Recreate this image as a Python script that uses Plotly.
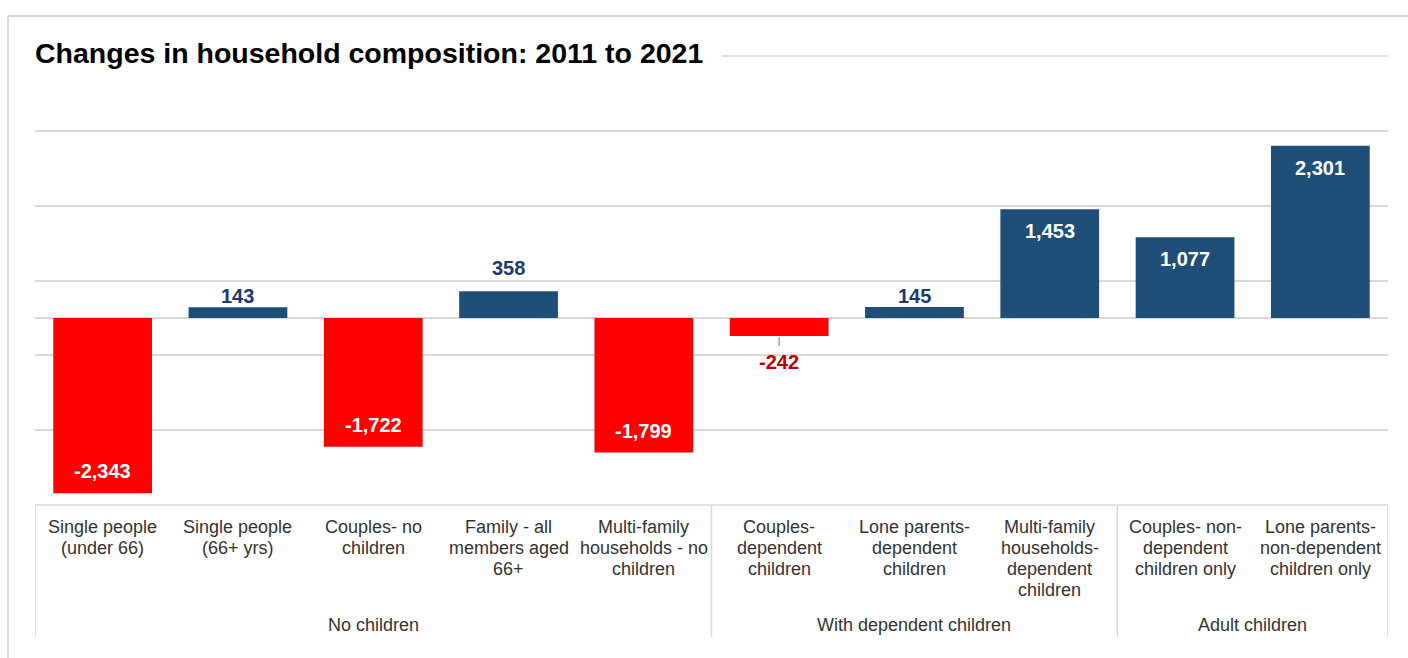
import plotly.graph_objects as go

# ---- data -------------------------------------------------------------
categories = [
    "Single people\n(under 66)",
    "Single people\n(66+ yrs)",
    "Couples- no\nchildren",
    "Family - all\nmembers aged\n66+",
    "Multi-family\nhouseholds - no\nchildren",
    "Couples-\ndependent\nchildren",
    "Lone parents-\ndependent\nchildren",
    "Multi-family\nhouseholds-\ndependent\nchildren",
    "Couples- non-\ndependent\nchildren only",
    "Lone parents-\nnon-dependent\nchildren only",
]
groups = ["No children", "With dependent children", "Adult children"]
group_sizes = [5, 3, 2]
change = [-2343, 143, -1722, 358, -1799, -242, 145, 1453, 1077, 2301]

title_text = "Changes in household composition: 2011 to 2021"

# ---- styling ----------------------------------------------------------
W, H = 1408, 658
L, R = 35, 1388          # plot area left / right in px
T, B = 56, 505           # plot area top / bottom in px
Y_MIN, Y_MAX = -2500, 3500

BLUE = "#1F4E79"
RED = "#FF0000"
NAVY_TXT = "#1B3A6E"
RED_TXT = "#C00000"
GRID = "#D9D9D9"
AXIS_TXT = "#333333"
FONT = "Liberation Sans, Arial, sans-serif"

INSIDE_LIMIT = 1000      # bars bigger than this carry their label inside
label_lift = {3: 12}     # extra lift (px) for a label sitting higher


def px_y(ypix):
    """pixel row -> paper y"""
    return (B - ypix) / (B - T)


def px_x(xpix):
    """pixel column -> paper x"""
    return (xpix - L) / (R - L)


n = len(categories)
xs = list(range(n))
colors = [RED if v < 0 else BLUE for v in change]

fig = go.Figure()
fig.add_trace(go.Bar(
    x=xs, y=change, width=0.73,
    marker=dict(color=colors, line=dict(width=0)),
    hoverinfo="skip", showlegend=False,
))

annotations = []
shapes = []

# value labels
for i, v in enumerate(change):
    txt = f"{v:,}"
    if abs(v) > INSIDE_LIMIT:
        col = "white"
        shift = -22 if v > 0 else 22
    else:
        if v > 0:
            col = NAVY_TXT
            shift = 11 + label_lift.get(i, 0)
        else:
            col = RED_TXT
            shift = -26
            # leader line between bar end and label
            shapes.append(dict(
                type="line", xref="x", yref="y", ysizemode="pixel",
                yanchor=v, x0=i, x1=i, y0=-1, y1=-10,
                line=dict(color="#A6A6A6", width=1.5), layer="above",
            ))
    annotations.append(dict(
        x=i, y=v, xref="x", yref="y", text=f"<b>{txt}</b>",
        showarrow=False, yshift=shift, yanchor="middle", xanchor="center",
        font=dict(family=FONT, size=20, color=col),
    ))

# category labels, one annotation per line
line_y0, line_step = 527, 21
for i, lab in enumerate(categories):
    for k, part in enumerate(lab.split("\n")):
        annotations.append(dict(
            x=i, y=px_y(line_y0 + k * line_step), xref="x", yref="paper",
            text=part, showarrow=False, xanchor="center", yanchor="middle",
            font=dict(family=FONT, size=18, color=AXIS_TXT),
        ))

# group labels and separators
start = 0
bounds = [0]
for g, sz in zip(groups, group_sizes):
    mid = start + (sz - 1) / 2
    annotations.append(dict(
        x=mid, y=px_y(625), xref="x", yref="paper", text=g,
        showarrow=False, xanchor="center", yanchor="middle",
        font=dict(family=FONT, size=18, color=AXIS_TXT),
    ))
    start += sz
    bounds.append(start)

for b in bounds:
    shapes.append(dict(
        type="line", xref="x", yref="paper", x0=b - 0.5, x1=b - 0.5,
        y0=0, y1=px_y(637), line=dict(color=GRID, width=1.5), layer="above",
    ))
# top edge of the category box
shapes.append(dict(
    type="line", xref="paper", yref="paper", x0=0, x1=1, y0=0, y1=0,
    line=dict(color=GRID, width=1.5), layer="above",
))
# top gridline (axis maximum = paper top), stopping short of the title
shapes.append(dict(
    type="line", xref="paper", yref="paper", x0=px_x(722), x1=1,
    y0=1, y1=1, line=dict(color=GRID, width=1.5), layer="above",
))

# outer chart frame (left and top edges)
shapes.append(dict(
    type="line", xref="paper", yref="paper", x0=px_x(8), x1=px_x(8),
    y0=px_y(16), y1=px_y(H + 5), line=dict(color=GRID, width=2),
))
shapes.append(dict(
    type="line", xref="paper", yref="paper", x0=px_x(8), x1=px_x(W + 5),
    y0=px_y(16), y1=px_y(16), line=dict(color=GRID, width=2),
))

annotations.append(dict(
    x=px_x(33), y=px_y(53), xref="paper", yref="paper",
    text=f"<b>{title_text}</b>",
    showarrow=False, xanchor="left", yanchor="middle",
    font=dict(family=FONT, size=28.5, color="#000000"),
))

fig.update_layout(
    width=W, height=H,
    margin=dict(l=L, r=W - R, t=T, b=H - B, pad=0),
    paper_bgcolor="white", plot_bgcolor="white",
    xaxis=dict(range=[-0.5, n - 0.5], showticklabels=False, showgrid=False,
               zeroline=False, showline=False, ticks=""),
    yaxis=dict(range=[Y_MIN, Y_MAX], tick0=Y_MIN, dtick=1000,
               showticklabels=False, showgrid=True, gridcolor=GRID,
               gridwidth=1.5, zeroline=True, zerolinecolor=GRID,
               zerolinewidth=1.5, showline=False, ticks=""),
    annotations=annotations,
    shapes=shapes,
    showlegend=False,
)

fig.write_html("out.html")
